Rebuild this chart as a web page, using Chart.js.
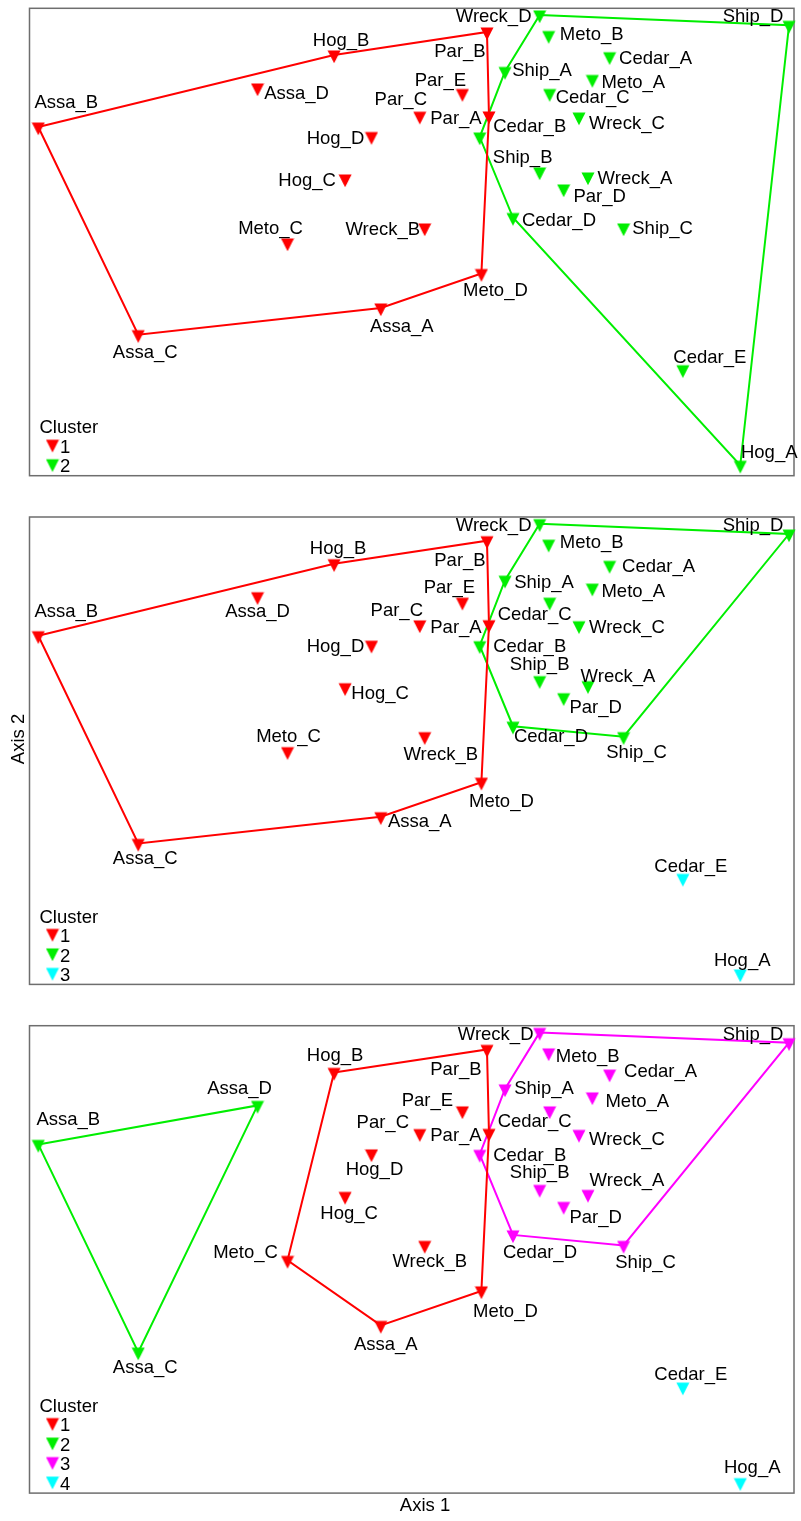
<!DOCTYPE html>
<html>
<head>
<meta charset="utf-8">
<script src="https://cdn.jsdelivr.net/npm/chart.js@4.4.1/dist/chart.umd.min.js"></script>
<style>
  html, body { margin: 0; padding: 0; background: #fff; }
  #wrap { position: relative; width: 801px; height: 1521px; overflow: hidden; }
  #wrap canvas { position: absolute; left: 0; }
</style>
</head>
<body>
<div id="wrap">
  <canvas id="c1" width="801" height="500" style="top:0px"></canvas>
  <canvas id="c2" width="801" height="500" style="top:507px"></canvas>
  <canvas id="c3" width="801" height="500" style="top:1015px"></canvas>
</div>
<script>
// Sitios y coordenadas de la ordenación (Axis 1, Axis 2)
const sites = ['Assa_A','Assa_B','Assa_C','Assa_D','Cedar_A','Cedar_B','Cedar_C','Cedar_D','Cedar_E','Hog_A',
  'Hog_B','Hog_C','Hog_D','Meto_A','Meto_B','Meto_C','Meto_D','Par_A','Par_B','Par_C',
  'Par_D','Par_E','Ship_A','Ship_B','Ship_C','Ship_D','Wreck_A','Wreck_B','Wreck_C','Wreck_D'];
const axis1 = [45.95, 1.15, 14.22, 29.83, 75.88, 58.89, 68.04, 63.24, 85.46, 92.97,
  39.84, 41.28, 44.73, 73.62, 67.91, 33.75, 59.11, 60.10, 59.84, 51.05,
  69.87, 56.63, 62.20, 66.73, 77.71, 99.35, 73.05, 51.70, 71.87, 66.73];
const axis2 = [35.88, 74.60, 30.17, 82.95, 89.64, 72.46, 81.77, 55.24, 22.68, 2.23,
  90.01, 63.48, 72.57, 84.77, 94.18, 49.79, 43.26, 76.96, 94.93, 76.91,
  61.34, 81.77, 86.48, 64.98, 53.00, 96.36, 63.91, 53.00, 76.74, 98.57];

// Grupo de cada sitio con 2, 3 y 4 grupos
const cluster2 = [1,1,1,1,2,2,2,2,2,2, 1,1,1,2,2,1,1,1,1,1, 2,1,2,2,2,2,2,1,2,2];
const cluster3 = [1,1,1,1,2,2,2,2,3,3, 1,1,1,2,2,1,1,1,1,1, 2,1,2,2,2,2,2,1,2,2];
const cluster4 = [1,2,2,2,3,3,3,3,4,4, 1,1,1,3,3,1,1,1,1,1, 3,1,3,3,3,3,3,1,3,3];

// Vértices de la envolvente de cada grupo (en orden)
const hulls2 = [
  ['Assa_B','Hog_B','Par_B','Par_A','Meto_D','Assa_A','Assa_C'],
  ['Wreck_D','Ship_D','Hog_A','Cedar_D','Cedar_B','Ship_A']
];
const hulls3 = [
  ['Assa_B','Hog_B','Par_B','Par_A','Meto_D','Assa_A','Assa_C'],
  ['Wreck_D','Ship_D','Ship_C','Cedar_D','Cedar_B','Ship_A'],
  []
];
const hulls4 = [
  ['Hog_B','Par_B','Par_A','Meto_D','Assa_A','Meto_C'],
  ['Assa_B','Assa_D','Assa_C'],
  ['Wreck_D','Ship_D','Ship_C','Cedar_D','Cedar_B','Ship_A'],
  []
];

const RED = '#ff0000', GREEN = '#00ee00', MAGENTA = '#ff00ff', CYAN = '#00ffff';
const FONT = "18.5px 'Liberation Sans', Arial, sans-serif";

// Posición de cada etiqueta respecto a su punto (px)
const labels1 = {Assa_A:[21,19], Assa_B:[28,-24], Assa_C:[7,18], Assa_D:[39,6], Cedar_A:[46,2], Cedar_B:[50,-10],
  Cedar_C:[43,4], Cedar_D:[46,3], Cedar_E:[27,-12], Hog_A:[29,-12], Hog_B:[7,-14], Hog_C:[-38,2], Hog_D:[-36,2],
  Meto_A:[41,4], Meto_B:[43,-1], Meto_C:[-17,-14], Meto_D:[14,17], Par_A:[-33,3], Par_B:[-27,20], Par_C:[-19,-16],
  Par_D:[36,8], Par_E:[-22,-13], Ship_A:[37,0], Ship_B:[-17,-14], Ship_C:[39,1], Ship_D:[-36,-8], Wreck_A:[47,2],
  Wreck_B:[-42,2], Wreck_C:[48,7], Wreck_D:[-46,2]};
const labels2 = {Assa_A:[39,5], Assa_B:[28,-24], Assa_C:[7,16], Assa_D:[0,15], Cedar_A:[49,2], Cedar_B:[50,1],
  Cedar_C:[-15,13], Cedar_D:[38,11], Cedar_E:[8,-11], Hog_A:[2,-13], Hog_B:[4,-15], Hog_C:[35,6], Hog_D:[-36,2],
  Meto_A:[41,4], Meto_B:[43,-1], Meto_C:[1,-15], Meto_D:[20,20], Par_A:[-33,3], Par_B:[-27,20], Par_C:[-23,-14],
  Par_D:[32,10], Par_E:[-13,-14], Ship_A:[39,3], Ship_B:[0,-16], Ship_C:[13,16], Ship_D:[-36,-8], Wreck_A:[30,-9],
  Wreck_B:[16,18], Wreck_C:[48,2], Wreck_D:[-46,2]};
const labels3 = {Assa_A:[5,20], Assa_B:[30,-24], Assa_C:[7,16], Assa_D:[-18,-16], Cedar_A:[51,-2], Cedar_B:[50,2],
  Cedar_C:[-15,11], Cedar_D:[27,18], Cedar_E:[8,-12], Hog_A:[12,-15], Hog_B:[1,-16], Hog_C:[4,18], Hog_D:[3,16],
  Meto_A:[45,5], Meto_B:[39,4], Meto_C:[-42,-7], Meto_D:[24,21], Par_A:[-33,3], Par_B:[-31,21], Par_C:[-37,-11],
  Par_D:[32,12], Par_E:[-35,-10], Ship_A:[39,0], Ship_B:[0,-16], Ship_C:[22,18], Ship_D:[-36,-8], Wreck_A:[39,-13],
  Wreck_B:[5,17], Wreck_C:[48,6], Wreck_D:[-44,3]};

// Triángulo invertido como imagen (centro del lienzo = punto de datos)
const markerCache = {};
function triangleMarker(color) {
  if (markerCache[color]) return markerCache[color];
  const c = document.createElement('canvas');
  c.width = 14;
  c.height = 18;
  const g = c.getContext('2d');
  g.fillStyle = color;
  g.beginPath();
  g.moveTo(0.5, 4.6);
  g.lineTo(13.5, 4.6);
  g.lineTo(7, 17.2);
  g.closePath();
  g.fill();
  markerCache[color] = c;
  return c;
}

// Marco, etiquetas de sitios, leyenda y títulos de ejes
const ordPlugin = {
  id: 'ordination',
  beforeDatasetsDraw(chart) {
    const { ctx, chartArea: a } = chart;
    ctx.save();
    ctx.strokeStyle = '#6e6e6e';
    ctx.lineWidth = 1.5;
    ctx.strokeRect(a.left, a.top, a.width, a.height);
    ctx.restore();
  },
  afterDatasetsDraw(chart, args, opts) {
    const { ctx, chartArea: a, scales: { x, y } } = chart;
    ctx.save();
    ctx.font = FONT;
    ctx.fillStyle = '#000';
    ctx.textAlign = 'center';
    sites.forEach((s, i) => {
      const [dx, dy] = opts.labels[s];
      ctx.fillText(s, x.getPixelForValue(axis1[i]) + dx, y.getPixelForValue(axis2[i]) + dy + 5);
    });

    // leyenda "Cluster"
    const n = opts.colors.length;
    ctx.textAlign = 'left';
    ctx.fillText('Cluster', 39.5, a.bottom - 10 - n * 19.5 + 6.6);
    opts.colors.forEach((col, j) => {
      const yc = a.bottom - 10 - (n - 1 - j) * 19.5;
      ctx.drawImage(triangleMarker(col), 52.5 - 7, yc - 2 - 9);
      ctx.fillText(String(j + 1), 60, yc + 6.6);
    });

    if (opts.axisY) {
      ctx.save();
      ctx.translate(opts.axisY.x, opts.axisY.y);
      ctx.rotate(-Math.PI / 2);
      ctx.textAlign = 'center';
      ctx.fillText(opts.axisY.text, 0, 6.6);
      ctx.restore();
    }
    if (opts.axisX) {
      ctx.textAlign = 'center';
      ctx.fillText(opts.axisX.text, opts.axisX.x, opts.axisX.y + 6.6);
    }
    ctx.restore();
  }
};

function pointOf(name) {
  const i = sites.indexOf(name);
  return { x: axis1[i], y: axis2[i] };
}

// Construye los datasets de puntos y polígonos de un panel
function buildDatasets(groups, hulls, colors) {
  const datasets = [];
  colors.forEach((col, c) => {
    datasets.push({
      label: String(c + 1),
      data: sites.filter((s, i) => groups[i] === c + 1).map(pointOf),
      backgroundColor: col,
      pointStyle: triangleMarker(col),
      pointRadius: 7,
      pointHoverRadius: 7,
      borderWidth: 0,
      clip: false,
      order: 0
    });
  });
  hulls.forEach((h, c) => {
    if (!h.length) return;
    datasets.push({
      label: 'hull ' + (c + 1),
      data: h.concat(h[0]).map(pointOf),
      showLine: true,
      borderColor: colors[c],
      borderWidth: 2,
      pointRadius: 0,
      pointHoverRadius: 0,
      clip: false,
      order: 1
    });
  });
  return datasets;
}

function makeChart(id, groups, hulls, colors, labels, padTop, extra) {
  const ctx = document.getElementById(id).getContext('2d');
  return new Chart(ctx, {
    type: 'scatter',
    data: { datasets: buildDatasets(groups, hulls, colors) },
    options: {
      responsive: false,
      animation: false,
      devicePixelRatio: 1,
      events: [],
      layout: { padding: { left: 29.5, right: 6.5, top: padTop, bottom: 500 - padTop - 467.4 } },
      scales: {
        x: { type: 'linear', min: 0, max: 100, display: false },
        y: { type: 'linear', min: 0, max: 100, display: false }
      },
      plugins: {
        legend: { display: false },
        tooltip: { enabled: false },
        ordination: Object.assign({ labels: labels, colors: colors }, extra)
      }
    },
    plugins: [ordPlugin]
  });
}

makeChart('c1', cluster2, hulls2, [RED, GREEN], labels1, 8.3, {});
makeChart('c2', cluster3, hulls3, [RED, GREEN, CYAN], labels2, 10, {
  axisY: { text: 'Axis 2', x: 17, y: 739 - 507 }
});
makeChart('c3', cluster4, hulls4, [RED, GREEN, MAGENTA, CYAN], labels3, 10.7, {
  axisX: { text: 'Axis 1', x: 425, y: 1504 - 1015 }
});
</script>
</body>
</html>
